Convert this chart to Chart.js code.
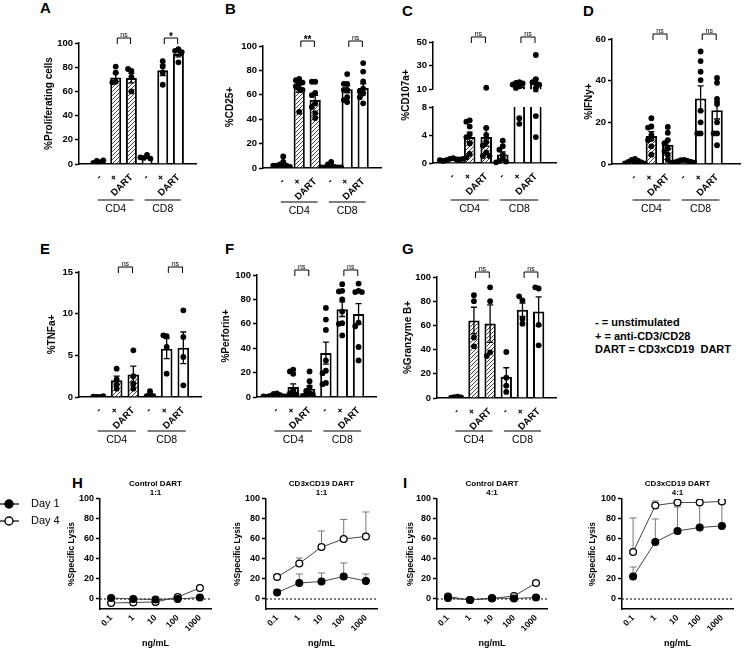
<!DOCTYPE html>
<html>
<head>
<meta charset="utf-8">
<script src="https://cdn.jsdelivr.net/npm/chart.js@4.4.0/dist/chart.umd.min.js"></script>
<style>
  body { margin: 0; background: #fff; }
  #fig { position: relative; width: 752px; height: 648px; overflow: hidden; font-family: "Liberation Sans", Arial, sans-serif; }
  #fig canvas { position: absolute; }
  .L { position: absolute; font-weight: bold; font-size: 15px; line-height: 15px; }
  .key { position: absolute; left: 595px; top: 316px; font-weight: bold; font-size: 11px; line-height: 13.5px; white-space: pre; }
</style>
</head>
<body>
<div id="fig">
  <div class="L" style="left:40px;top:0px">A</div>
  <div class="L" style="left:225px;top:1px">B</div>
  <div class="L" style="left:402px;top:3px">C</div>
  <div class="L" style="left:583px;top:3px">D</div>
  <div class="L" style="left:40px;top:241px">E</div>
  <div class="L" style="left:225px;top:241px">F</div>
  <div class="L" style="left:402px;top:241px">G</div>
  <div class="L" style="left:72px;top:475px">H</div>
  <div class="L" style="left:403px;top:475px">I</div>
  <div class="key">- = unstimulated
+ = anti-CD3/CD28
DART = CD3xCD19  DART</div>
</div>
<script>
// ---- data ----
const stim = ['-', '+', 'DART', '-', '+', 'DART'];
const cells = ['CD4', 'CD8'];

// A: %Proliferating cells
const prolifMean = [2, 71.5, 71, 5.5, 77.5, 91];
const prolifSem = [0.5, 3.5, 4, 0.7, 4.5, 2.5];
const prolifPts = [[1.5, 2.5, 3, 1], [80.5, 75.5, 68, 67.5], [77, 78.5, 72, 60], [7.5, 5, 4.5, 5.5], [85, 80.5, 75.5, 65.5], [95, 93.5, 92.5, 84]];
const prolifSig = ['ns', '*'];

// B: %CD25+
const cd25Mean = [3, 65.5, 56, 1.5, 64.5, 65.5];
const cd25Sem = [1, 3.5, 3.5, 0.6, 2.8, 3.5];
const cd25Pts = [[9.5, 5, 3, 2, 2, 1, 1, 2], [73, 72, 70, 69, 67, 65, 64, 46], [70.7, 70.7, 61.6, 59.7, 52.9, 50, 45, 41], [5, 3, 1, 1, 0.5, 0.5, 0.5, 0.5], [77, 69, 69, 64, 64, 58, 55.6, 54], [86, 79, 71, 65, 63, 61, 58, 53]];
const cd25Sig = ['**', 'ns'];

// C: %CD107a+ (broken axis)
const cd107Mean = [0.5, 3.7, 3.7, 1.2, 12.5, 15.4];
const cd107Sem = [0.05, 0.7, 1.3, 0.4, 1.3, 3.7];
const cd107Pts = [[0.7, 0.6, 0.5, 0.4, 0.5, 0.3, 0.6, 0.4], [6.1, 5.9, 5.2, 4.1, 3.7, 2.8, 1.3, 0.8], [11.3, 5, 4, 3, 2.5, 1.5, 1, 1], [3.2, 2.4, 1.9, 1.2, 0.6, 0.3, 0.2, 0.1], [16, 15.4, 15, 14, 12.5, 11.2, 6.4, 5.6], [39, 18.6, 16, 15, 14, 10.5, 6.7, 3.7]];
const cd107Sig = ['ns', 'ns'];

// D: %IFNy+
const ifnMean = [1, 13.5, 9.3, 1.2, 31.5, 25.8];
const ifnSem = [0.3, 2, 2, 0.2, 6, 4.2];
const ifnPts = [[2.5, 2, 1.5, 1, 0.8, 0.5, 0.3, 0.2], [22, 18, 17.5, 14, 12, 11.5, 8.5, 4.5], [17.8, 15, 11.5, 10, 7.5, 6, 4.5, 2], [2, 1.8, 1.5, 1.2, 1, 0.8, 0.6, 0.5], [54, 49.4, 44.3, 40.3, 25.6, 20, 14.7, 14.7], [41.3, 39, 31.3, 28.8, 20, 14.7, 14.7, 9]];
const ifnSig = ['ns', 'ns'];

// E: %TNFa+
const tnfMean = [0.05, 2.0, 2.7, 0.3, 5.8, 5.9];
const tnfSem = [0.02, 0.5, 1.0, 0.15, 1.2, 1.9];
const tnfPts = [[0, 0, 0.1, 0.05], [3.4, 2.1, 1.5, 1.0], [5.6, 2.5, 1.6, 1.0], [0.7, 0.2, 0.1, 0.1], [7.3, 7.4, 6.0, 2.8], [10.4, 7.2, 4.8, 1.4]];
const tnfSig = ['ns', 'ns'];

// F: %Perforin+
const perfMean = [1.2, 8.2, 6.8, 36, 72, 68];
const perfSem = [0.4, 2.5, 2.5, 9, 6, 8.5];
const perfPts = [[3, 2.5, 1.5, 1, 0.5, 0.3, 0.3, 0.5], [22.5, 21, 19, 5, 3, 2, 1, 0.5], [21, 13, 8, 5, 3, 2, 1.5, 1], [73, 63.5, 55, 30, 21.5, 19.5, 11.5, 10.5], [92.5, 87, 86.5, 80, 70, 60.5, 60, 50.5], [93, 87, 86, 86, 61, 58, 41, 30]];
const perfSig = ['ns', 'ns'];

// G: %Granzyme B+
const gzbMean = [0.7, 64, 61.5, 17.5, 73, 71.5];
const gzbSem = [0.2, 11, 15.5, 7.5, 5.5, 12];
const gzbPts = [[1.2, 0.8, 0.5, 0.3], [85, 80, 50, 42.7], [91.5, 80, 37.7, 34.7], [38, 16.8, 10.2, 5], [80.7, 84, 65.5, 61.4], [90.5, 91.5, 60.5, 43.5]];
const gzbSig = ['ns', 'ns'];

// H / I: %Specific Lysis
const doses = ['0.1', '1', '10', '100', '1000'];
const ctl11Day1 = [1, 0, -0.5, 0, 1.5];
const ctl11Day4 = [-4, -3.5, -3, 2, 11];
const dart11Day1 = [6.5, 16, 17.5, 22.5, 18];
const dart11Day1Err = [2.5, 9, 8.5, 13.5, 7];
const dart11Day4 = [22, 35.5, 52, 60, 62.5];
const dart11Day4Err = [1.5, 5.5, 16, 19.5, 24.5];
const ctl41Day1 = [1, -1, 1, 0.5, 1.5];
const ctl41Day4 = [2.5, -1, 0.5, 3, 16];
const dart41Day1 = [22.5, 57, 68, 71.5, 73];
const dart41Day1Err = [9.5, 23, 24, 24.5, 23];
const dart41Day4 = [47, 93.5, 96.5, 96.5, 97.5];
const dart41Day4Err = [34, 4.5, 1, 1, 1];
const noErr = [0, 0, 0, 0, 0];

// ---- helpers ----
const FONT = '"Liberation Sans", Arial, sans-serif';
Chart.defaults.font.family = FONT;
Chart.defaults.color = '#000';

function place(left, top, w, h) {
  const c = document.createElement('canvas');
  c.width = Math.round(w); c.height = Math.round(h);
  c.style.left = left + 'px'; c.style.top = top + 'px';
  document.getElementById('fig').appendChild(c);
  return c;
}

function makeHatch() {
  const c = document.createElement('canvas');
  c.width = c.height = 4;
  const g = c.getContext('2d');
  g.fillStyle = '#fff'; g.fillRect(0, 0, 4, 4);
  g.strokeStyle = '#444'; g.lineWidth = 1;
  g.beginPath();
  g.moveTo(0, 4); g.lineTo(4, 0);
  g.moveTo(-1, 1); g.lineTo(1, -1);
  g.moveTo(3, 5); g.lineTo(5, 3);
  g.stroke();
  return g.createPattern(c, 'repeat');
}
const hatch = makeHatch();
const fills = ['#fff', hatch, hatch, '#fff', '#fff', '#fff'];

// simple beeswarm so dots with close values sit side by side
function swarm(vals, yPx, unit) {
  const placed = [];
  return vals.map(v => {
    const py = yPx(v);
    for (let k = 0; k < 30; k++) {
      const dx = (k % 2 ? -1 : 1) * Math.ceil(k / 2) * 4;
      if (placed.every(p => Math.hypot(p[0] - dx, p[1] - py) >= 4)) {
        placed.push([dx, py]);
        return dx / unit;
      }
    }
    return 0;
  });
}

const barDeco = {
  id: 'barDeco',
  afterDatasetDraw(chart, args, o) {
    if (!o.mean || args.meta.type !== 'bar') return;
    const {ctx, scales: {x, y}, chartArea: a} = chart;
    ctx.save();
    ctx.beginPath(); ctx.rect(a.left, a.top - 2, a.right - a.left, a.bottom - a.top + 2); ctx.clip();
    ctx.strokeStyle = '#000'; ctx.lineWidth = 1.3;
    o.mean.forEach((m, i) => {
      const px = x.getPixelForValue(i);
      const hi = y.getPixelForValue(m + o.sem[i]);
      const lo = y.getPixelForValue(m - o.sem[i]);
      ctx.beginPath();
      ctx.moveTo(px, lo); ctx.lineTo(px, hi);
      ctx.moveTo(px - 3, hi); ctx.lineTo(px + 3, hi);
      ctx.moveTo(px - 3, lo); ctx.lineTo(px + 3, lo);
      ctx.stroke();
    });
    ctx.restore();
  },
  afterDraw(chart, args, o) {
    if (!o.mean) return;
    const {ctx, scales: {x}, chartArea: a} = chart;
    ctx.save();
    ctx.strokeStyle = '#000'; ctx.fillStyle = '#000'; ctx.lineWidth = 1;
    if (o.sig) o.sig.forEach((t, g) => {
      const x1 = x.getPixelForValue(g * 3 + 1.1), x2 = x.getPixelForValue(g * 3 + 1.95);
      const yb = a.top - o.brY;
      ctx.beginPath();
      ctx.moveTo(x1, yb + 6); ctx.lineTo(x1, yb); ctx.lineTo(x2, yb); ctx.lineTo(x2, yb + 6);
      ctx.stroke();
      ctx.textAlign = 'center'; ctx.textBaseline = 'alphabetic';
      ctx.font = t === 'ns' ? '7px ' + FONT : 'bold 10px ' + FONT;
      ctx.fillText(t, (x1 + x2) / 2, t === 'ns' ? yb - 1.5 : yb + 2);
    });
    if (o.groupDy) cells.forEach((c, g) => {
      const x1 = x.getPixelForValue(g * 3 - 0.15), x2 = x.getPixelForValue(g * 3 + 2.15);
      const yl = a.bottom + o.groupDy;
      ctx.lineWidth = 1.2;
      ctx.beginPath(); ctx.moveTo(x1, yl); ctx.lineTo(x2, yl); ctx.stroke();
      ctx.font = '10.5px ' + FONT; ctx.textAlign = 'center'; ctx.textBaseline = 'middle';
      ctx.fillText(c, (x1 + x2) / 2, yl + 9.5);
    });
    if (o.ytitle) {
      ctx.translate(o.ytitle.x, o.ytitle.y); ctx.rotate(-Math.PI / 2);
      ctx.font = 'bold 10px ' + FONT; ctx.textAlign = 'center'; ctx.textBaseline = 'middle';
      ctx.fillText(o.ytitle.text, 0, 0);
    }
    ctx.restore();
  }
};

const lysisDeco = {
  id: 'lysisDeco',
  beforeDatasetsDraw(chart, args, o) {
    if (!o.on) return;
    const {ctx, scales: {x, y}, chartArea: a} = chart;
    ctx.save();
    ctx.strokeStyle = '#000'; ctx.lineWidth = 1; ctx.setLineDash([2, 2]);
    const y0 = y.getPixelForValue(0);
    ctx.beginPath(); ctx.moveTo(a.left, y0); ctx.lineTo(a.right, y0); ctx.stroke();
    ctx.setLineDash([]);
    ctx.strokeStyle = '#777';
    chart.data.datasets.forEach(ds => {
      ds.data.forEach((v, i) => {
        if (!ds.err[i]) return;
        const px = x.getPixelForValue(i), p0 = y.getPixelForValue(v), p1 = y.getPixelForValue(v + ds.err[i]);
        ctx.beginPath();
        ctx.moveTo(px, p0); ctx.lineTo(px, p1);
        ctx.moveTo(px - 3.5, p1); ctx.lineTo(px + 3.5, p1);
        ctx.stroke();
      });
    });
    ctx.restore();
  },
  afterDraw(chart, args, o) {
    if (!o.legend) return;
    const {ctx} = chart;
    ctx.save();
    chart.data.datasets.forEach((ds, i) => {
      const yy = o.legend.y[i];
      ctx.strokeStyle = '#000'; ctx.lineWidth = 1.2;
      ctx.beginPath(); ctx.moveTo(0, yy); ctx.lineTo(19, yy); ctx.stroke();
      ctx.beginPath(); ctx.arc(9, yy, 4, 0, Math.PI * 2);
      ctx.fillStyle = ds.pointBackgroundColor; ctx.fill(); ctx.lineWidth = 1.4; ctx.stroke();
      ctx.fillStyle = '#000'; ctx.font = '11px ' + FONT; ctx.textAlign = 'left'; ctx.textBaseline = 'middle';
      ctx.fillText(ds.label, 31, yy);
    });
    ctx.restore();
  }
};
Chart.register(barDeco, lysisDeco);

function barPanel(g, title, mean, sem, pts, sig) {
  const left = g.tx - 8;
  const top = g.top !== undefined ? g.top : g.ty - 24;
  const w = g.rx + 6 - left, h = g.bottom - top;
  const padTop = g.ty - top;
  const yW = g.ax - left;
  const xH = h - padTop - (g.by - g.ty);
  const unit = (g.rx - g.ax) / (5 + g.offL + g.offR);
  const yPx = g.yPx || (v => v * (g.by - g.ty) / (g.max - g.min));
  const scatter = [];
  pts.forEach((list, i) => {
    const off = swarm(list, yPx, unit);
    list.forEach((v, j) => scatter.push({x: i + off[j], y: v}));
  });
  const cv = place(left, top, w, h);
  return new Chart(cv, {
    type: 'bar',
    data: {
      datasets: [
        {type: 'bar', data: mean.map((m, i) => ({x: i, y: m})), backgroundColor: fills, borderColor: '#000',
         borderWidth: 2, barPercentage: 0.7, categoryPercentage: 1, order: 2, clip: g.clip},
        {type: 'scatter', data: scatter, pointRadius: 2.9, pointBackgroundColor: '#000', pointBorderWidth: 0,
         order: 1, clip: g.clip !== undefined ? 3 : undefined}
      ]
    },
    options: {
      responsive: false, animation: false, devicePixelRatio: 1,
      layout: {padding: {top: padTop, right: 6, left: 0, bottom: 0}},
      plugins: {
        legend: {display: false}, tooltip: {enabled: false},
        barDeco: {
          mean, sem, brY: 5,
          sig: g.noSig ? null : sig,
          groupDy: g.groupY ? g.groupY - g.by : 0,
          ytitle: g.titleY ? {text: title, x: g.tx - left, y: g.titleY - top} : null
        }
      },
      scales: {
        x: {
          type: 'linear', display: !g.hideX, min: -g.offL, max: 5 + g.offR,
          afterBuildTicks: s => { s.ticks = stim.map((_, i) => ({value: i})); },
          afterFit: g.hideX ? undefined : s => { s.height = xH; },
          ticks: {callback: v => stim[v], autoSkip: false, minRotation: 45, maxRotation: 45, padding: 8,
                  color: '#000', font: {size: 9.5, weight: 'bold'}},
          grid: {display: false, drawTicks: false},
          border: {color: '#000', width: 1.5}
        },
        y: {
          min: g.min, max: g.max,
          ticks: {stepSize: g.step, padding: 2, color: '#000', font: {size: 9.5, weight: 'bold'}},
          grid: {drawOnChartArea: false, tickLength: 4, tickColor: '#000', tickWidth: 1.5},
          border: {color: '#000', width: 1.5},
          title: {display: !g.titleY, text: title, color: '#000', font: {size: 10, weight: 'bold'}, padding: {top: 2, bottom: 0}},
          afterFit: s => { s.width = yW; }
        }
      }
    }
  });
}

function lysisPanel(g, title, d1, e1, d4, e4, legend) {
  const left = g.left !== undefined ? g.left : g.tx - 8;
  const top = 473, ty = 499, by = 609, bottom = 649;
  const w = g.rx + 6 - left, h = bottom - top;
  const cv = place(left, top, w, h);
  const pt = {borderColor: '#444', borderWidth: 1, pointRadius: 3.4, pointBorderColor: '#000', pointBorderWidth: 1.3, tension: 0};
  return new Chart(cv, {
    type: 'line',
    data: {
      labels: doses,
      datasets: [
        Object.assign({label: 'Day 1', data: d1, err: e1, pointBackgroundColor: '#000'}, pt),
        Object.assign({label: 'Day 4', data: d4, err: e4, pointBackgroundColor: '#fff'}, pt)
      ]
    },
    options: {
      responsive: false, animation: false, devicePixelRatio: 1,
      layout: {padding: {top: 0, right: 6, left: 0, bottom: 0}},
      plugins: {
        legend: {display: false}, tooltip: {enabled: false},
        title: {display: true, text: title, fullSize: false, color: '#000',
                font: {size: 8, weight: 'bold', lineHeight: 1.06}, padding: {top: 7, bottom: 2}},
        lysisDeco: {on: true, legend: legend ? {y: [504 - top, 521 - top]} : null}
      },
      scales: {
        x: {
          type: 'category', offset: true,
          afterFit: s => { s.height = bottom - by; },
          ticks: {autoSkip: false, minRotation: 45, maxRotation: 45, padding: 4, color: '#000', font: {size: 8.5, weight: 'bold'}},
          grid: {display: false, drawTicks: false},
          border: {color: '#000', width: 1.5},
          title: {display: true, text: 'ng/mL', color: '#000', font: {size: 9, weight: 'bold'}, padding: 0}
        },
        y: {
          min: -10, max: 100,
          afterBuildTicks: s => { s.ticks = [0, 20, 40, 60, 80, 100].map(v => ({value: v})); },
          afterFit: s => { s.width = g.ax - left; },
          ticks: {padding: 2, color: '#000', font: {size: 9, weight: 'bold'}},
          grid: {drawOnChartArea: false, tickLength: 4, tickColor: '#000', tickWidth: 1.5},
          border: {color: '#000', width: 1.5},
          title: {display: true, text: '%Specific Lysis', color: '#000', font: {size: 8.5, weight: 'bold'},
                  padding: {top: g.tx - left - 5, bottom: 0}}
        }
      }
    }
  });
}

// ---- panels ----
const row1 = {ty: 43, by: 164, bottom: 222, min: 0, max: 100, step: 20};
barPanel(Object.assign({}, row1, {tx: 49, ax: 79, rx: 196, offL: 0.72, offR: 0.5, groupY: 200}),
  '%Proliferating cells', prolifMean, prolifSem, prolifPts, prolifSig);
barPanel(Object.assign({}, row1, {tx: 230, ax: 263, rx: 381, ty: 46, by: 168, offL: 0.65, offR: 0.5, groupY: 202}),
  '%CD25+', cd25Mean, cd25Sem, cd25Pts, cd25Sig);

// C: two stacked charts for the broken y axis
const cY = v => v <= 9 ? v * 7 : 66 + (v - 10) * 1.375;
barPanel({tx: 406, ax: 433, rx: 556, ty: 42, by: 97, top: 18, bottom: 97, min: 10, max: 50, step: 10,
  offL: 0.6, offR: 0.6, hideX: true, clip: 0, yPx: cY, titleY: -100},
  '', cd107Mean, cd107Sem, cd107Pts, cd107Sig);
barPanel({tx: 406, ax: 433, rx: 556, ty: 107, by: 163, top: 18, bottom: 222, min: 0, max: 8, step: 2,
  offL: 0.6, offR: 0.6, clip: 0, yPx: cY, noSig: true, titleY: 95, groupY: 200},
  '%CD107a+', cd107Mean, cd107Sem, cd107Pts, cd107Sig);

barPanel(Object.assign({}, row1, {tx: 589, ax: 612, rx: 740, ty: 39, max: 60, offL: 0.75, offR: 0.75, groupY: 200}),
  '%IFNy+', ifnMean, ifnSem, ifnPts, ifnSig);

const row2 = {bottom: 450, min: 0, max: 100, step: 20, groupY: 431};
barPanel(Object.assign({}, row2, {tx: 52, ax: 79, rx: 201, ty: 272, by: 397, max: 15, step: 5, offL: 0.65, offR: 0.45}),
  '%TNFa+', tnfMean, tnfSem, tnfPts, tnfSig);
barPanel(Object.assign({}, row2, {tx: 226, ax: 257, rx: 376, ty: 275, by: 397, offL: 0.61, offR: 0.46}),
  '%Perforin+', perfMean, perfSem, perfPts, perfSig);
barPanel(Object.assign({}, row2, {tx: 408, ax: 437, rx: 556, ty: 277, by: 398, offL: 0.67, offR: 0.46}),
  '%Granzyme B+', gzbMean, gzbSem, gzbPts, gzbSig);

lysisPanel({left: 0, tx: 72, ax: 100, rx: 211}, ['Control DART', '1:1'], ctl11Day1, noErr, ctl11Day4, noErr, true);
lysisPanel({tx: 238, ax: 266, rx: 377}, ['CD3xCD19 DART', '1:1'], dart11Day1, dart11Day1Err, dart11Day4, dart11Day4Err, false);
lysisPanel({tx: 411, ax: 437, rx: 547}, ['Control DART', '4:1'], ctl41Day1, noErr, ctl41Day4, noErr, false);
lysisPanel({tx: 593, ax: 622, rx: 733}, ['CD3xCD19 DART', '4:1'], dart41Day1, dart41Day1Err, dart41Day4, dart41Day4Err, false);
</script>
</body>
</html>
